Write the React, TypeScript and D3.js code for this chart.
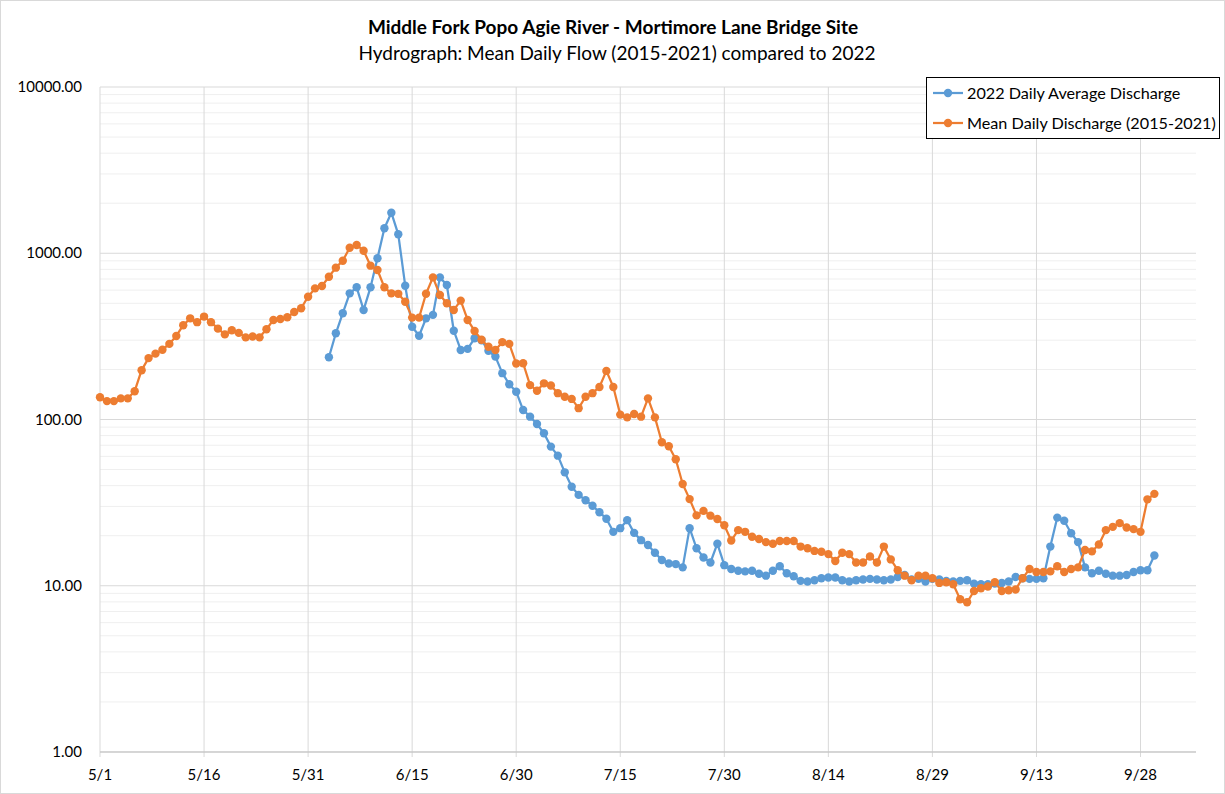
import React from 'react';
import * as d3 from 'd3';

// Mean daily discharge (2015-2021), one value per day starting 5/1
const meanStart = '5/1';
const meanDaily = [
  136, 129, 129, 134, 134, 148, 198, 234, 249, 263, 285, 318, 369, 406, 385, 416, 385, 352, 325, 344,
  332, 312, 316, 312, 349, 397, 402, 412, 443, 467, 548, 615, 635, 722, 819, 902, 1080, 1121, 1036, 842,
  793, 624, 574, 570, 511, 410, 410, 571, 716, 561, 500, 456, 519, 397, 341, 302, 274, 262, 292, 285,
  217, 218, 161, 149, 165, 160, 144, 137, 133, 117, 137, 144, 157, 196, 157, 107, 103, 108, 104, 134,
  103, 73, 69, 57.7, 40.9, 33.2, 26.5, 28.2, 26.4, 25.2, 23.1, 18.7, 21.6, 21.1, 19.7, 19.1, 18.3, 17.9, 18.6, 18.6,
  18.6, 17.2, 16.8, 16.2, 16.0, 15.5, 14.1, 15.8, 15.5, 13.8, 13.8, 15.0, 13.8, 17.2, 14.4, 12.4, 11.5, 10.8, 11.5, 11.5,
  11.1, 10.4, 10.5, 10.2, 8.3, 7.95, 9.3, 9.66, 9.9, 10.5, 9.3, 9.4, 9.5, 11.1, 12.6, 12.1, 12.1, 12.2, 13.1, 12.1,
  12.6, 12.9, 16.4, 16.1, 17.7, 21.6, 22.6, 23.8, 22.4, 21.9, 21.1, 33.1, 35.7,
];

// 2022 daily average discharge, one value per day starting 6/3
const dailyStart = '6/3';
const daily2022 = [
  237, 330, 436, 574, 624, 456, 624, 933, 1413, 1754, 1300, 638, 361, 319, 406, 426, 716, 644, 342, 262,
  266, 308, 300, 259, 239, 190, 163, 147, 114, 104, 94, 82.6, 68.7, 60.6, 48.1, 39.4, 35.2, 32.7, 30.3, 27.7,
  25.3, 21.1, 22.2, 24.8, 20.8, 18.8, 17.6, 15.8, 14.3, 13.6, 13.5, 12.9, 22.2, 16.8, 14.8, 13.8, 17.9, 13.3, 12.6, 12.3,
  12.2, 12.3, 11.8, 11.5, 12.3, 13.1, 11.9, 11.4, 10.7, 10.6, 10.8, 11.1, 11.2, 11.2, 10.8, 10.6, 10.8, 10.9, 11.0, 10.9,
  10.8, 10.9, 11.3, 11.6, 10.9, 11.0, 10.6, 11.0, 10.9, 10.7, 10.6, 10.7, 10.8, 10.3, 10.2, 10.2, 10.3, 10.4, 10.6, 11.3,
  11.1, 11.0, 11.0, 11.1, 17.2, 25.7, 24.6, 20.7, 18.3, 12.9, 11.9, 12.3, 11.8, 11.5, 11.5, 11.6, 12.1, 12.4, 12.4, 15.2,
];

const xTickLabels = ['5/1', '5/16', '5/31', '6/15', '6/30', '7/15', '7/30', '8/14', '8/29', '9/13', '9/28'];
const yTickValues = [1, 10, 100, 1000, 10000];
const xEnd = '10/6';

const seriesNames = ['2022 Daily Average Discharge', 'Mean Daily Discharge (2015-2021)'];
const seriesColors = ['#5B9BD5', '#ED7D31'];

const W = 1225;
const H = 794;
const M = { left: 100, right: 1196, top: 87, bottom: 752 };
const FONT = 'Lato, "Open Sans", sans-serif';

const toDate = (md: string) => {
  const [m, d] = md.split('/').map(Number);
  return new Date(2022, m - 1, d);
};

const App = () => {
  const x = d3.scaleTime().domain([toDate(meanStart), toDate(xEnd)]).range([M.left, M.right]);
  const y = d3.scaleLog().domain([1, 10000]).range([M.bottom, M.top]);

  const toPoints = (start: string, vals: number[]) =>
    vals.map((v, i) => ({ date: d3.timeDay.offset(toDate(start), i), v }));

  const series = [toPoints(dailyStart, daily2022), toPoints(meanStart, meanDaily)];

  const line = d3
    .line<{ date: Date; v: number }>()
    .x((d) => x(d.date))
    .y((d) => y(d.v));

  // minor gridlines 2..9 per decade
  const minor: number[] = [];
  for (let p = 0; p < 4; p++) {
    for (let k = 2; k <= 9; k++) minor.push(k * Math.pow(10, p));
  }

  return (
    <svg width={W} height={H} style={{ position: 'absolute', left: 0, top: 0, background: '#fff' }}>
      <rect x={0.5} y={0.5} width={W - 1} height={H - 1} fill="#fff" stroke="#d9d9d9" />

      <text x={613} y={34} textAnchor="middle" fontFamily={FONT} fontWeight="bold" fontSize={19} fill="#000">
        Middle Fork Popo Agie River - Mortimore Lane Bridge Site
      </text>
      <text x={617} y={60} textAnchor="middle" fontFamily={FONT} fontSize={19} fill="#000">
        Hydrograph: Mean Daily Flow (2015-2021) compared to 2022
      </text>

      {/* gridlines */}
      {minor.map((v) => (
        <line key={'m' + v} x1={M.left} x2={M.right} y1={y(v)} y2={y(v)} stroke="#efefef" strokeWidth={1} />
      ))}
      {yTickValues.map((v) => (
        <line key={'y' + v} x1={M.left} x2={M.right} y1={y(v)} y2={y(v)} stroke="#d9d9d9" strokeWidth={1} />
      ))}
      {xTickLabels.map((t) => (
        <line key={'x' + t} x1={x(toDate(t))} x2={x(toDate(t))} y1={M.top} y2={M.bottom + 5} stroke="#d9d9d9" strokeWidth={1} />
      ))}
      <line x1={M.left} x2={M.right} y1={M.bottom} y2={M.bottom} stroke="#bfbfbf" strokeWidth={1} />

      {/* axis labels */}
      {yTickValues.map((v) => (
        <text key={'yl' + v} x={82} y={y(v) + 5} textAnchor="end" fontFamily={FONT} fontSize={15} fill="#000">
          {v.toFixed(2)}
        </text>
      ))}
      {xTickLabels.map((t) => (
        <text key={'xl' + t} x={x(toDate(t))} y={780} textAnchor="middle" fontFamily={FONT} fontSize={15} fill="#000">
          {t}
        </text>
      ))}

      {/* series */}
      {[0, 1].map((s) => (
        <g key={'s' + s}>
          <path d={line(series[s]) || ''} fill="none" stroke={seriesColors[s]} strokeWidth={2.25} strokeLinejoin="round" />
          {series[s].map((d, i) => (
            <circle key={i} cx={x(d.date)} cy={y(d.v)} r={4.2} fill={seriesColors[s]} />
          ))}
        </g>
      ))}

      {/* legend */}
      <rect x={926.5} y={77.5} width={293} height={61} fill="#fff" stroke="#000" strokeWidth={1} />
      {seriesNames.map((n, i) => (
        <g key={'lg' + i}>
          <line x1={933} x2={963} y1={93 + i * 30} y2={93 + i * 30} stroke={seriesColors[i]} strokeWidth={2.25} />
          <circle cx={948} cy={93 + i * 30} r={4.2} fill={seriesColors[i]} />
          <text x={967} y={98.5 + i * 30} fontFamily={FONT} fontSize={16.2} fill="#000">
            {n}
          </text>
        </g>
      ))}
    </svg>
  );
};

export default App;
